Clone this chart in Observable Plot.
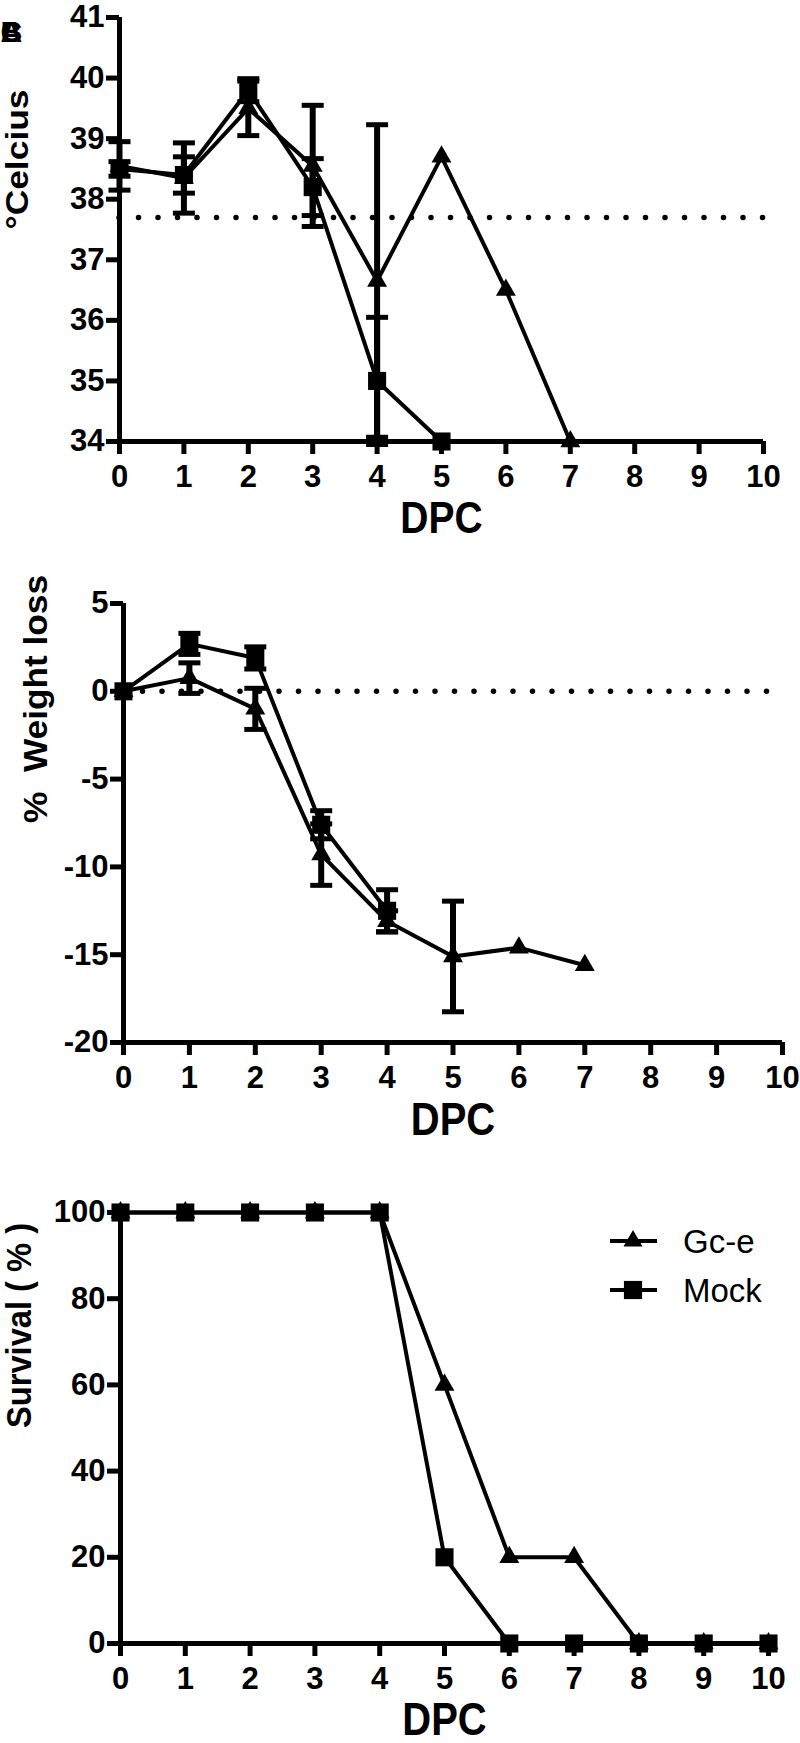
<!DOCTYPE html>
<html><head><meta charset="utf-8">
<script src="https://cdn.jsdelivr.net/npm/d3@7"></script>
<script src="https://cdn.jsdelivr.net/npm/@observablehq/plot@0.6"></script>
<style>
html,body{margin:0;padding:0;background:#fff;}
#wrap{position:relative;width:800px;height:1743px;overflow:hidden;background:#fff;}
#wrap > svg{display:block;}
</style></head><body><div id="wrap"></div>
<script>
// ---------- data ----------
const xTicks = [0,1,2,3,4,5,6,7,8,9,10];
const panelLetters = ["A","B","C"];
const legendLabels = ["Gc-e","Mock"];

// Panel 1: temperature (°C)
const tempTicks = [34,35,36,37,38,39,40,41];
const tempGcDays = [0,1,2,3,4,5,6,7];
const tempGcMean = [38.55,38.35,39.5,38.55,36.65,38.7,36.5,34.0];
const tempGcErr  = [0.4,0.58,0.45,1.0,2.58,null,null,null];
const tempMockDays = [0,1,2,3,4,5];
const tempMockMean = [38.5,38.4,39.8,38.2,35.0,34.0];
const tempMockErr  = [0.12,0.3,0.19,0.47,1.05,null];
const tempBaseline = [{y:37.7, x1:0, x2:10.25}];

// Panel 2: % weight loss
const wTicks = [-20,-15,-10,-5,0,5];
const wGcDays = [0,1,2,3,4,5,6,7];
const wGcMean = [0,0.75,-1.0,-9.3,-13.1,-15.1,-14.6,-15.6];
const wGcErr  = [0,0.87,1.17,1.75,0.6,3.15,null,null];
const wMockDays = [0,1,2,3,4];
const wMockMean = [0,2.7,1.9,-7.6,-12.5];
const wMockErr  = [0,0.6,0.63,0.8,1.2];
const wBaseline = [{y:0, x1:0, x2:10}];

// Panel 3: survival (%)
const sTicks = [0,20,40,60,80,100];
const sDays = [0,1,2,3,4,5,6,7,8,9,10];
const sGc   = [100,100,100,100,100,60,20,20,0,0,0];
const sMock = [100,100,100,100,100,20,0,0,0,0,0];

// ---------- helpers ----------
const FONT = "'Liberation Sans', Arial, Helvetica, sans-serif";
const rows = (d, m, e) => d.map((x,i)=>({day:x, mean:m[i], err:e ? e[i] : null}));
const withErr = r => r.filter(d => d.err != null && d.err > 0);
const capSymbol = {draw(ctx, size){const r = Math.sqrt(size/Math.PI); ctx.moveTo(-r,0); ctx.lineTo(r,0);}};

function errMarks(r){
  const e = withErr(r);
  return [
    Plot.ruleX(e, {x:"day", y1:d=>d.mean-d.err, y2:d=>d.mean+d.err, stroke:"black", strokeWidth:6}),
    Plot.dot(e, {x:"day", y:d=>d.mean+d.err, symbol:capSymbol, r:11, stroke:"black", strokeWidth:5, fill:"none"}),
    Plot.dot(e, {x:"day", y:d=>d.mean-d.err, symbol:capSymbol, r:11, stroke:"black", strokeWidth:5, fill:"none"})
  ];
}
function seriesMarks(gc, mock){
  return [
    Plot.line(gc, {x:"day", y:"mean", stroke:"black", strokeWidth:4, strokeLinejoin:"round"}),
    Plot.line(mock, {x:"day", y:"mean", stroke:"black", strokeWidth:4, strokeLinejoin:"round"}),
    Plot.dot(gc, {x:"day", y:"mean", symbol:"triangle", r:7.4, fill:"black", stroke:"none"}),
    Plot.dot(mock, {x:"day", y:"mean", symbol:"square", r:10.2, fill:"black", stroke:"none"})
  ];
}
function panel(cfg){
  const marks = [];
  if (cfg.baseline) marks.push(Plot.ruleY(cfg.baseline, {y:"y", x1:"x1", x2:"x2", stroke:"black", strokeWidth:5.5, strokeDasharray:"0 19.5", strokeLinecap:"round"}));
  marks.push(Plot.ruleX([cfg.xDomain[0]], {stroke:"black", strokeWidth:5}));
  marks.push(Plot.ruleY([cfg.yDomain[0]], {stroke:"black", strokeWidth:5}));
  marks.push(Plot.axisX({ticks:xTicks, tickFormat:d=>String(d), tickSize:13, tickPadding:10, fontSize:31, fontWeight:"bold", strokeWidth:5, label:null}));
  marks.push(Plot.axisY({ticks:cfg.yTicks, tickFormat:d=>String(d), tickSize:13, tickPadding:2, fontSize:31, fontWeight:"bold", strokeWidth:5, label:null}));
  marks.push(...cfg.marks);
  marks.push(Plot.text([cfg.ylabel], {text:d=>d, frameAnchor:"left", rotate:-90, dx:cfg.ylabelDx, fontSize:cfg.ylabelSize, fontWeight:"bold"}));
  marks.push(Plot.text(["DPC"], {text:d=>d, frameAnchor:"bottom", dy:cfg.dpcDy, fontSize:cfg.dpcSize, fontWeight:"bold"}));
  if (cfg.letters) marks.push(Plot.text(cfg.letters, {text:d=>d, frameAnchor:"top-left", dx:-cfg.ml, dy:3, textAnchor:"start", lineAnchor:"top", fontSize:30, fontWeight:"bold"}));
  const svg = Plot.plot({
    width:800, height:cfg.height,
    marginTop:cfg.mt, marginBottom:cfg.mb, marginLeft:cfg.ml, marginRight:cfg.mr,
    x:{domain:cfg.xDomain}, y:{domain:cfg.yDomain},
    style:{fontFamily:FONT, fontWeight:"bold", color:"black", background:"white", overflow:"visible"},
    marks
  });
  svg.querySelectorAll("text").forEach(t => {
    if (t.textContent === cfg.ylabel) { t.setAttribute("textLength", cfg.ylabelLen); t.setAttribute("lengthAdjust","spacingAndGlyphs"); }
    if (t.textContent === "DPC") { t.setAttribute("transform", (t.getAttribute("transform")||"") + " scale(1,1.15)"); }
  });
  return svg;
}

const wrap = document.getElementById("wrap");

// Panel 1
const tGc = rows(tempGcDays, tempGcMean, tempGcErr);
const tMock = rows(tempMockDays, tempMockMean, tempMockErr);
wrap.appendChild(panel({
  height:560, mt:17, mb:119, ml:119, mr:37,
  xDomain:[0,10], yDomain:[34,41], yTicks:tempTicks, baseline:tempBaseline,
  marks:[...errMarks(tGc), ...errMarks(tMock), ...seriesMarks(tGc, tMock)],
  ylabel:"°Celcius", ylabelSize:31, ylabelLen:140, ylabelDx:-101,
  dpcSize:39, dpcDy:91, letters:panelLetters
}));

// Panel 2
const gW = rows(wGcDays, wGcMean, wGcErr);
const mW = rows(wMockDays, wMockMean, wMockErr);
wrap.appendChild(panel({
  height:580, mt:43, mb:98, ml:123, mr:18,
  xDomain:[0,10], yDomain:[-20,5], yTicks:wTicks, baseline:wBaseline,
  marks:[...errMarks(gW), ...errMarks(mW), ...seriesMarks(gW, mW)],
  ylabel:"%  Weight loss", ylabelSize:34, ylabelLen:248, ylabelDx:-87,
  dpcSize:40, dpcDy:92
}));

// Panel 3
const gS = rows(sDays, sGc, null);
const mS = rows(sDays, sMock, null);
wrap.appendChild(panel({
  height:603, mt:72, mb:100, ml:120, mr:32,
  xDomain:[0,10], yDomain:[0,100], yTicks:sTicks, baseline:null,
  marks:[...seriesMarks(gS, mS)],
  ylabel:"Survival ( % )", ylabelSize:35, ylabelLen:205, ylabelDx:-101,
  dpcSize:40, dpcDy:91
}));

// Legend (panel 3)
const leg = d3.select(wrap).append("svg")
  .attr("width",200).attr("height",110)
  .style("position","absolute").style("left","600px").style("top","1215px");
const legSymbols = [d3.symbol(d3.symbolTriangle, 157)(), d3.symbol(d3.symbolSquare, 330)()];
legendLabels.forEach((lab, i) => {
  const y = 26 + i*49;
  const g = leg.append("g").attr("transform", `translate(0,${y})`);
  g.append("line").attr("x1",10).attr("x2",57).attr("y1",0).attr("y2",0).attr("stroke","black").attr("stroke-width",4);
  g.append("path").attr("d", legSymbols[i]).attr("transform","translate(33,0)").attr("fill","black");
  g.append("text").attr("x",83).attr("y",11.5).attr("font-family",FONT).attr("font-size",33).attr("fill","black").text(lab);
});
</script></body></html>
